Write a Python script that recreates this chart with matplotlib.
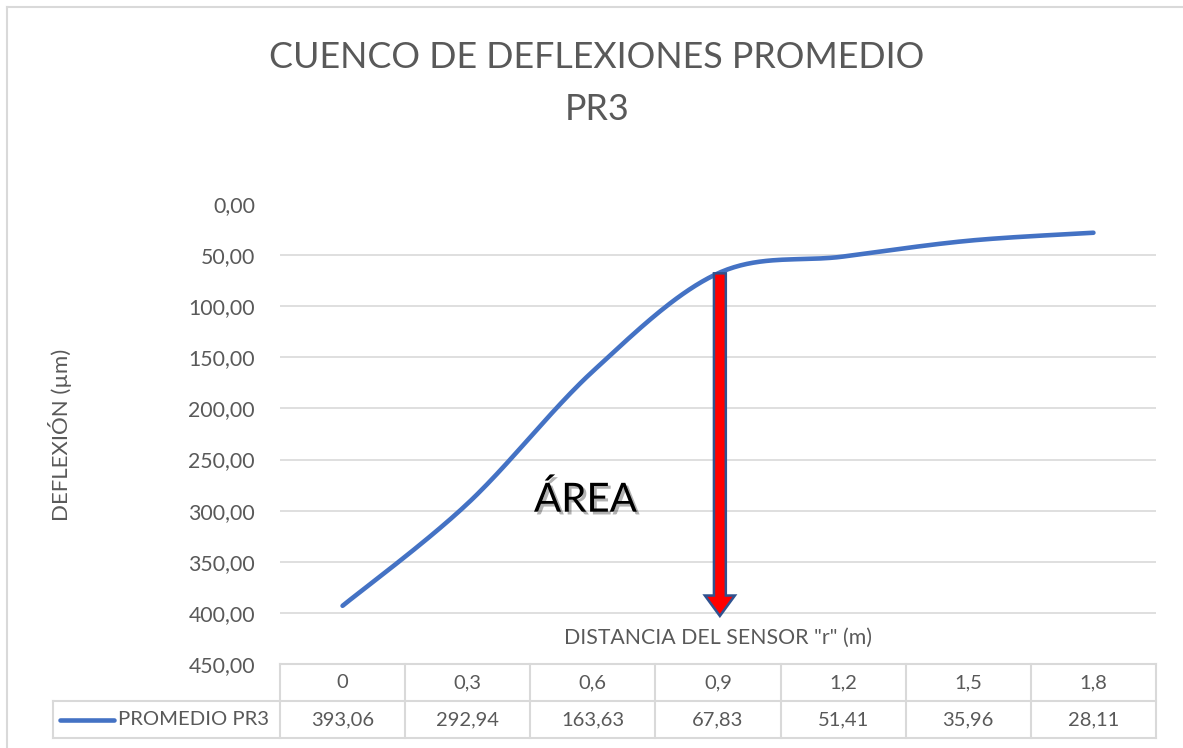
import numpy as np
import matplotlib
matplotlib.use("Agg")
import matplotlib.pyplot as plt
from matplotlib.patches import FancyArrow
from matplotlib.lines import Line2D
import matplotlib.patheffects as pe

plt.rcParams['font.family'] = ['Lato', 'DejaVu Sans']

# ---------------- data ----------------
categories = ["0", "0,3", "0,6", "0,9", "1,2", "1,5", "1,8"]
values = [393.06, 292.94, 163.63, 67.83, 51.41, 35.96, 28.11]
series_name = "PROMEDIO PR3"
value_labels = ["393,06", "292,94", "163,63", "67,83", "51,41", "35,96", "28,11"]
yticks = [0, 50, 100, 150, 200, 250, 300, 350, 400, 450]
arrow_category = 3          # 0,9
arrow_bottom = 400

TXT = '#595959'
GRID = '#D9D9D9'
BLUE = '#4472C4'

W, H = 1183, 748
fig = plt.figure(figsize=(W / 100, H / 100), dpi=100)
L, R, T, B = 280, 1156, 204, 664
ax = fig.add_axes([L / W, 1 - B / H, (R - L) / W, (B - T) / H])
ax.set_xlim(-0.5, len(categories) - 0.5)
ax.set_ylim(450, 0)
for s in ax.spines.values():
    s.set_visible(False)
ax.set_xticks([])
ax.set_yticks(yticks)
ax.set_yticklabels([f"{v:.2f}".replace('.', ',') for v in yticks], color=TXT, fontsize=15.3)
ax.tick_params(axis='y', length=0, pad=18)
for v in yticks[1:-1]:
    ax.axhline(v, color=GRID, lw=1.2, zorder=1)

# Excel-like smoothed line (cardinal spline -> Bezier)
x = np.arange(len(values), dtype=float)
y = np.array(values)
px = np.concatenate([[x[0]], x, [x[-1]]])
py = np.concatenate([[y[0]], y, [y[-1]]])
xs, ys = [], []
t = np.linspace(0, 1, 40)
for i in range(len(x) - 1):
    p0 = np.array([x[i], y[i]])
    p3 = np.array([x[i + 1], y[i + 1]])
    c1 = p0 + (np.array([px[i + 2], py[i + 2]]) - np.array([px[i], py[i]])) / 6
    c2 = p3 - (np.array([px[i + 3], py[i + 3]]) - np.array([px[i + 1], py[i + 1]])) / 6
    bx = (1 - t) ** 3 * p0[0] + 3 * (1 - t) ** 2 * t * c1[0] + 3 * (1 - t) * t ** 2 * c2[0] + t ** 3 * p3[0]
    by = (1 - t) ** 3 * p0[1] + 3 * (1 - t) ** 2 * t * c1[1] + 3 * (1 - t) * t ** 2 * c2[1] + t ** 3 * p3[1]
    xs.extend(bx); ys.extend(by)
ax.plot(xs, ys, color=BLUE, lw=3.3, solid_capstyle='round', zorder=3)

# arrow
top = values[arrow_category]
arr = FancyArrow(arrow_category + 0.015, top, 0, arrow_bottom - top + 3, width=0.095,
                 head_width=0.24, head_length=20, length_includes_head=True,
                 fc='#FF0000', ec='#2F528F', lw=1.8, zorder=4)
ax.add_patch(arr)

# ÁREA label
ax.text(1.94, 301, "ÁREA", fontsize=29, color='black', ha='center', va='baseline',
        path_effects=[pe.withSimplePatchShadow(offset=(2, -2), alpha=0.3)], zorder=5)

# x-axis title
ax.text(3.0, 424, 'DISTANCIA DEL SENSOR "r" (m)', fontsize=15.3, color=TXT,
        ha='center', va='center')

# data table (in data x coordinates, below the axis)
ppu = (B - T) / 450.0
def yd(pix):
    return 450 + (pix - B) / ppu
r0, r1, r2 = yd(664), yd(701), yd(738)
xl = -0.5 - (L - 53) / 125.0
xr = len(categories) - 0.5
kw = dict(color=GRID, lw=1.5, clip_on=False, zorder=2)
ax.plot([-0.5, xr], [r0, r0], **kw)
ax.plot([xl, xr], [r1, r1], **kw)
ax.plot([xl, xr], [r2, r2], **kw)
ax.plot([xl, xl], [r1, r2], **kw)
for i in range(len(categories) + 1):
    ax.plot([i - 0.5, i - 0.5], [r0, r2], **kw)
for i, (c, v) in enumerate(zip(categories, value_labels)):
    ax.text(i, (r0 + r1) / 2, c, ha='center', va='center', fontsize=14.5, color=TXT, clip_on=False)
    ax.text(i, (r1 + r2) / 2, v, ha='center', va='center', fontsize=14.5, color=TXT, clip_on=False)
lx0 = -0.5 - (L - 60) / 125.0
lx1 = -0.5 - (L - 114) / 125.0
ax.plot([lx0, lx1], [(r1 + r2) / 2] * 2, color=BLUE, lw=3.3, solid_capstyle='round', clip_on=False)
ax.text(-0.5 - (L - 118) / 125.0, (r1 + r2) / 2, series_name, ha='left', va='center',
        fontsize=14.6, color=TXT, clip_on=False)

# title & y label
fig.text(597 / W, 1 - 57 / H, "CUENCO DE DEFLEXIONES PROMEDIO", ha='center', va='center',
         fontsize=25.8, color=TXT)
fig.text(597 / W, 1 - 109 / H, "PR3", ha='center', va='center', fontsize=25.8, color=TXT)
fig.text(60 / W, 1 - 435 / H, "DEFLEXIÓN (µm)", rotation=90, ha='center', va='center',
         fontsize=16, color=TXT)

# chart border (left & top)
fig.add_artist(Line2D([7 / W, 7 / W], [0, 1 - 7 / H], color=GRID, lw=1.5, transform=fig.transFigure))
fig.add_artist(Line2D([7 / W, 1], [1 - 7 / H, 1 - 7 / H], color=GRID, lw=1.5, transform=fig.transFigure))

fig.savefig("out.png", dpi=100, facecolor='white')
